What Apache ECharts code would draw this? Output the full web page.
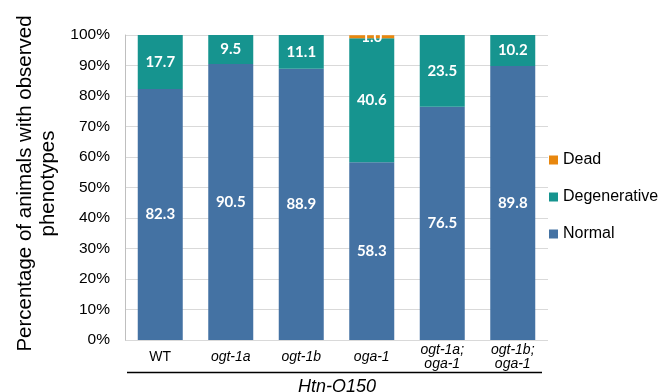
<!DOCTYPE html>
<html><head><meta charset="utf-8">
<script src="https://cdn.jsdelivr.net/npm/echarts@6/dist/echarts.min.js"></script>
<style>html,body{margin:0;padding:0;background:#fff}#c{width:666px;height:392px}</style>
</head><body><div id="c"></div>
<script>
const categories = ['WT', 'ogt-1a', 'ogt-1b', 'oga-1', 'ogt-1a;\noga-1', 'ogt-1b;\noga-1'];
const normal = [82.3, 90.5, 88.9, 58.3, 76.5, 89.8];
const degenerative = [17.7, 9.5, 11.1, 40.6, 23.5, 10.2];
const dead = [0, 0, 0, 1.0, 0, 0];
const yTicks = [0, 10, 20, 30, 40, 50, 60, 70, 80, 90, 100];
const groupLabel = 'Htn-Q150';

const chart = echarts.init(document.getElementById('c'), null, {renderer: 'canvas'});
const labelStyle = {show: true, position: 'inside', color: '#fff', fontFamily: 'Lato', fontWeight: 'bold', fontSize: 15,
  formatter: p => p.value > 0 ? p.value.toFixed(1) : ''};
chart.setOption({
  animation: false,
  grid: {left: 125, right: 118, top: 35, bottom: 52, containLabel: false, outerBoundsMode: 'none'},
  legend: {
    orient: 'vertical', left: 544, top: 147, itemGap: 21, itemWidth: 9, itemHeight: 9,
    icon: 'rect', data: ['Dead', 'Degenerative', 'Normal'],
    textStyle: {fontFamily: 'Liberation Sans', fontSize: 16, color: '#000', padding: [0, 0, 0, 0]}
  },
  xAxis: {
    type: 'category', data: categories,
    axisLine: {show: false}, axisTick: {show: false},
    axisLabel: {
      interval: 0, margin: 17, verticalAlign: 'middle', fontFamily: 'Liberation Sans', fontSize: 14, color: '#000', lineHeight: 14.5,
      formatter: v => v === 'WT' ? '{n|WT}' : v.split('\n').map(s => '{i|' + s + '}').join('\n'),
      rich: {n: {fontFamily: 'Liberation Sans', fontSize: 14, color: '#000', lineHeight: 14.5},
             i: {fontFamily: 'Liberation Sans', fontStyle: 'italic', fontSize: 14, color: '#000', lineHeight: 14.5}}
    }
  },
  yAxis: {
    type: 'value', min: 0, max: 100, interval: 10,
    name: 'Percentage of animals with observed\nphenotypes', nameLocation: 'middle', nameGap: 62,
    nameTextStyle: {fontFamily: 'Liberation Sans', fontSize: 20.5, color: '#000', lineHeight: 23, padding: [0, 0, 0, 8]},
    axisLine: {show: true, lineStyle: {color: '#bfbfbf'}},
    axisTick: {show: false},
    splitLine: {lineStyle: {color: '#d9d9d9'}},
    axisLabel: {fontFamily: 'Liberation Sans', fontSize: 15.5, color: '#000', margin: 15,
      formatter: v => yTicks.includes(v) ? v + '%' : ''}
  },
  series: [
    {name: 'Normal', type: 'bar', stack: 's', data: normal, barWidth: 45, itemStyle: {color: '#4472a3'}, label: labelStyle},
    {name: 'Degenerative', type: 'bar', stack: 's', data: degenerative, barWidth: 45, itemStyle: {color: '#16948f'}, label: labelStyle},
    {name: 'Dead', type: 'bar', stack: 's', data: dead, barWidth: 45, itemStyle: {color: '#e8870e'}, label: labelStyle}
  ],
  graphic: [
    {type: 'line', shape: {x1: 127, y1: 372.5, x2: 542, y2: 372.5}, style: {stroke: '#000', lineWidth: 1.5}},
    {type: 'text', x: 337, y: 387, style: {text: groupLabel, fontFamily: 'Liberation Sans', fontStyle: 'italic', fontSize: 18, fill: '#000', align: 'center', verticalAlign: 'middle'}}
  ]
});
</script></body></html>
